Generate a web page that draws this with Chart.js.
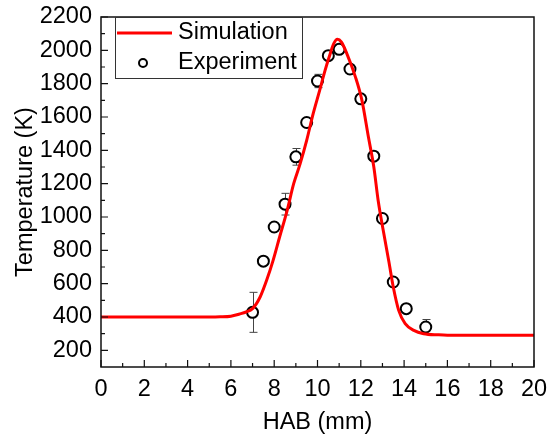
<!DOCTYPE html>
<html>
<head>
<meta charset="utf-8">
<script src="https://cdn.jsdelivr.net/npm/chart.js@4"></script>
<style>
  body { margin: 0; background: #fff; }
  #wrap { width: 549px; height: 438px; }
</style>
</head>
<body>
<div id="wrap"><canvas id="graph" width="549" height="438"></canvas></div>
<script>
// simulation curve (HAB in mm, temperature in K)
const simX = [0, 5, 5.5, 6, 6.4, 6.7, 7, 7.35, 7.65, 7.95, 8.25, 8.6, 8.9, 9.2, 9.5, 9.8, 10.1, 10.35, 10.55, 10.75, 10.92, 11.1, 11.35, 11.75, 12.05, 12.35, 12.6, 12.8, 13.05, 13.3, 13.5, 13.75, 14.05, 14.45, 14.9, 15.6, 16, 20];
const simT = [400, 400, 401, 405, 418, 430, 450, 520, 620, 740, 880, 1040, 1200, 1320, 1460, 1620, 1760, 1880, 1965, 2040, 2066, 2050, 1982, 1841, 1701, 1481, 1301, 1101, 910, 730, 580, 440, 360, 320, 300, 293, 291, 290];

// experiment points with error
const expX = [7, 7.5, 8, 8.5, 9, 9.5, 10, 10.5, 11, 11.5, 12, 12.6, 13, 13.5, 14.1, 15];
const expT = [428, 735, 940, 1077, 1361, 1567, 1816, 1968, 2006, 1888, 1709, 1365, 991, 610, 450, 340];
const expErr = [120, 20, 15, 65, 50, 25, 40, 15, 20, 20, 15, 15, 15, 20, 15, 45];

const xTicks = [0, 2, 4, 6, 8, 10, 12, 14, 16, 18, 20];
const yTicks = [200, 400, 600, 800, 1000, 1200, 1400, 1600, 1800, 2000, 2200];

const FONT = "'Liberation Sans', Arial, sans-serif";
const FS = 23.5;

const errorBars = {
  id: "errorBars",
  beforeDatasetsDraw(chart) {
    const { ctx, scales: { x, y } } = chart;
    ctx.save();
    ctx.strokeStyle = "#444";
    ctx.lineWidth = 1;
    for (let i = 0; i < expX.length; i++) {
      const px = Math.round(x.getPixelForValue(expX[i])) + 0.5;
      const top = y.getPixelForValue(expT[i] + expErr[i]);
      const bot = y.getPixelForValue(expT[i] - expErr[i]);
      ctx.beginPath();
      ctx.moveTo(px, top); ctx.lineTo(px, bot);
      ctx.moveTo(px - 4, top); ctx.lineTo(px + 4, top);
      ctx.moveTo(px - 4, bot); ctx.lineTo(px + 4, bot);
      ctx.stroke();
    }
    ctx.restore();
  },
};

const frame = {
  id: "frame",
  afterDraw(chart) {
    const { ctx, chartArea: a, scales: { x, y } } = chart;
    ctx.save();
    ctx.strokeStyle = "#111";
    ctx.lineWidth = 1.5;
    ctx.strokeRect(a.left, a.top, a.right - a.left, a.bottom - a.top);

    // inward ticks
    ctx.lineWidth = 1.2;
    ctx.beginPath();
    x.ticks.forEach((t, i) => {
      const px = x.getPixelForValue(t.value);
      ctx.moveTo(px, a.bottom); ctx.lineTo(px, a.bottom - 7);
      if (i < x.ticks.length - 1) {
        const mx = x.getPixelForValue((t.value + x.ticks[i + 1].value) / 2);
        ctx.moveTo(mx, a.bottom); ctx.lineTo(mx, a.bottom - 4);
      }
    });
    y.ticks.forEach((t) => {
      const py = y.getPixelForValue(t.value);
      ctx.moveTo(a.left, py); ctx.lineTo(a.left + 7, py);
      const mv = t.value - 100;
      if (mv > y.min) {
        const my = y.getPixelForValue(mv);
        ctx.moveTo(a.left, my); ctx.lineTo(a.left + 4, my);
      }
    });
    ctx.stroke();

    // legend box
    const lx = 115, ly = a.top, lw = 187, lh = 61;
    ctx.fillStyle = "#fff";
    ctx.fillRect(lx, ly, lw, lh);
    ctx.strokeStyle = "#333";
    ctx.lineWidth = 1;
    ctx.strokeRect(lx + 0.5, ly + 0.5, lw, lh);
    ctx.strokeStyle = "#ff0000";
    ctx.lineWidth = 3;
    ctx.beginPath();
    ctx.moveTo(117, 33); ctx.lineTo(172, 33);
    ctx.stroke();
    ctx.strokeStyle = "#000";
    ctx.lineWidth = 2;
    ctx.beginPath();
    ctx.arc(143, 63, 4, 0, Math.PI * 2);
    ctx.stroke();
    ctx.fillStyle = "#000";
    ctx.font = FS + "px " + FONT;
    ctx.textBaseline = "middle";
    ctx.fillText(chart.data.datasets[0].label, 178, 33);
    ctx.fillText(chart.data.datasets[1].label, 178, 63);
    ctx.restore();
  },
};

const chart = new Chart(document.getElementById("graph"), {
  type: "scatter",
  data: {
    datasets: [
      {
        label: "Simulation",
        data: simX.map((v, i) => ({ x: v, y: simT[i] })),
        showLine: true,
        borderColor: "#ff0000",
        borderWidth: 3,
        pointRadius: 0,
        cubicInterpolationMode: "monotone",
      },
      {
        label: "Experiment",
        data: expX.map((v, i) => ({ x: v, y: expT[i] })),
        pointRadius: 5.5,
        pointBorderWidth: 2,
        pointBorderColor: "#000",
        pointBackgroundColor: "#fff",
      },
    ],
  },
  options: {
    responsive: false,
    animation: false,
    layout: { padding: { top: 17, right: 15, left: 0, bottom: 0 } },
    plugins: { legend: { display: false }, tooltip: { enabled: false } },
    scales: {
      x: {
        type: "linear",
        min: 0,
        max: 20,
        afterBuildTicks: (s) => { s.ticks = xTicks.map((v) => ({ value: v })); },
        afterFit: (s) => { s.height = 71; s.paddingLeft = 0; s.paddingRight = 0; },
        grid: { display: false, drawTicks: false },
        border: { display: false },
        ticks: { color: "#000", padding: 8, maxRotation: 0, callback: (v) => String(v), font: { family: FONT, size: FS } },
        title: { display: true, text: "HAB (mm)", color: "#000", padding: { top: 0, bottom: 1 }, font: { family: FONT, size: FS } },
      },
      y: {
        min: 100,
        max: 2200,
        afterBuildTicks: (s) => { s.ticks = yTicks.map((v) => ({ value: v })); },
        afterFit: (s) => { s.width = 101; s.paddingTop = 0; s.paddingBottom = 0; },
        grid: { display: false, drawTicks: false },
        border: { display: false },
        ticks: { color: "#000", padding: 9, callback: (v) => String(v), font: { family: FONT, size: FS } },
        title: { display: true, text: "Temperature (K)", color: "#000", padding: { top: 11, bottom: 0 }, font: { family: FONT, size: FS } },
      },
    },
  },
  plugins: [errorBars, frame],
});
</script>
</body>
</html>
